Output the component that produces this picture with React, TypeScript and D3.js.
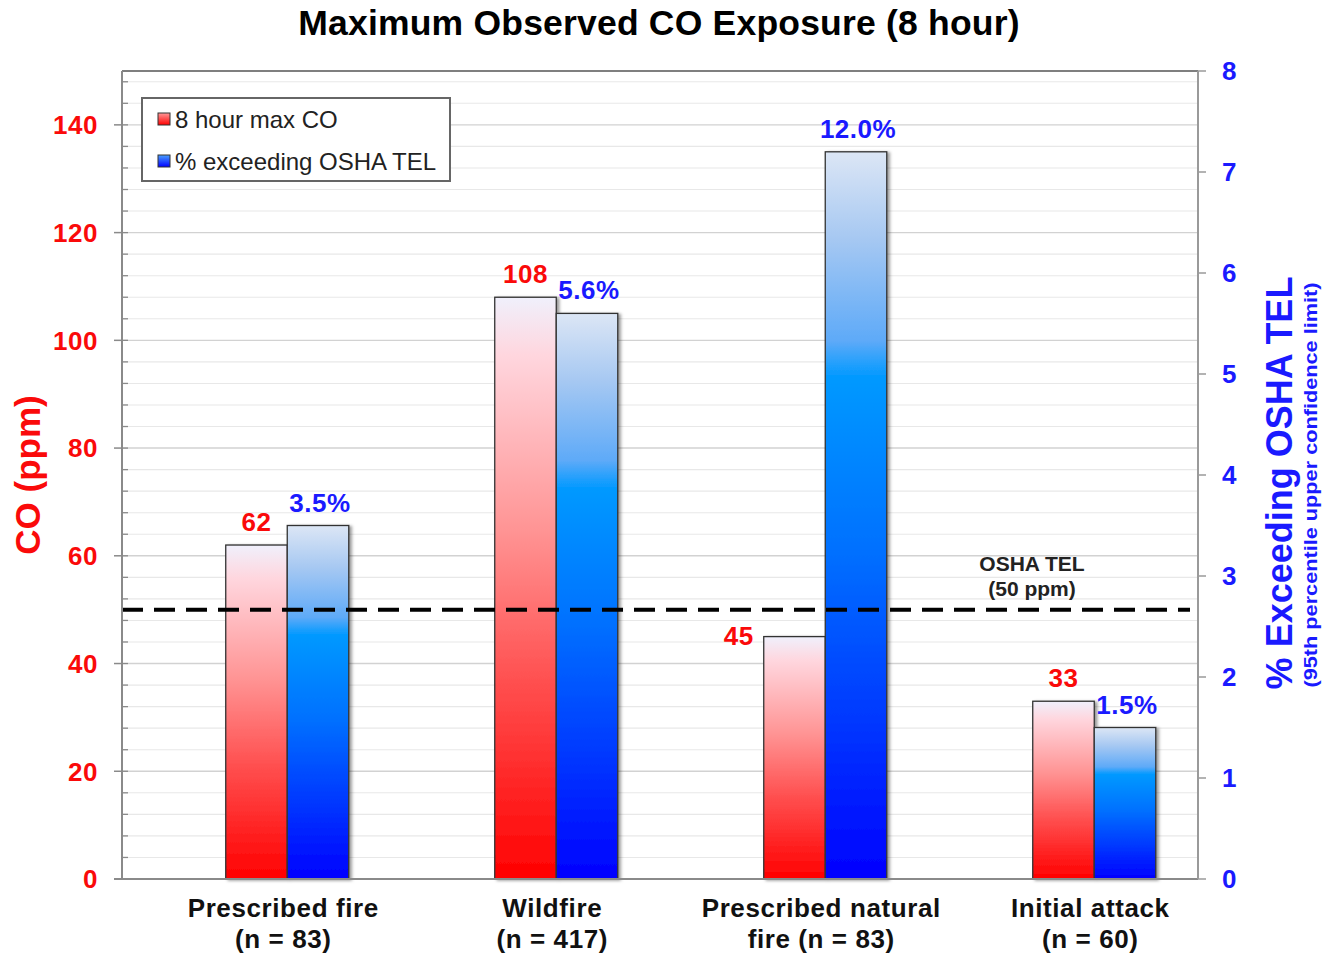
import React from "react";
import * as d3 from "d3";

// Exposure summary by fire type
const categories = ["Prescribed fire", "Wildfire", "Prescribed natural fire", "Initial attack"];
const categoryLabelLines = [
  ["Prescribed fire", "(n = 83)"],
  ["Wildfire", "(n = 417)"],
  ["Prescribed natural", "fire (n = 83)"],
  ["Initial attack", "(n = 60)"],
];
const coMaxPpm = [62, 108, 45, 33];
const pctExceedingTel = [3.5, 5.6, 12.0, 1.5];
const coTicks = [0, 20, 40, 60, 80, 100, 120, 140];
const pctTicks = [0, 1, 2, 3, 4, 5, 6, 7, 8];
const OSHA_TEL_PPM = 50;
// Off-scale percentage bars are truncated at this height on the right axis
const PCT_BAR_CAP = 7.2;
// Categories whose CO value label sits to the left of its bar
const coLabelBeside = ["Prescribed natural fire"];

const W = 1335;
const H = 957;
const plot = { left: 122, right: 1198, top: 71, bottom: 879 };
const FONT = "'Liberation Sans', Arial, Helvetica, sans-serif";
const RED = "#fa0a0a";
const BLUE = "#1a1aff";

export default function App() {
  const x = d3
    .scaleBand<string>()
    .domain(categories)
    .range([plot.left, plot.right])
    .paddingInner(0.314)
    .paddingOuter(0.157);
  const slot = d3
    .scaleBand<string>()
    .domain(["empty", "co", "pct"])
    .range([0, x.bandwidth()]);
  const yCo = d3.scaleLinear().domain([0, 150]).range([plot.bottom, plot.top]);
  const yPct = d3.scaleLinear().domain([0, 8]).range([plot.bottom, plot.top]);

  const gridVals = d3.range(4, 150, 4);
  const minorTicks = d3.range(0, 150, 4);
  const bw = slot.bandwidth();

  return (
    <svg
      width={W}
      height={H}
      viewBox={`0 0 ${W} ${H}`}
      style={{ position: "absolute", left: 0, top: 0, background: "#fff", fontFamily: FONT }}
    >
      <defs>
        <linearGradient id="gradRed" x1="0" y1="0" x2="0" y2="1">
          <stop offset="0%" stopColor="#f0f0fc" />
          <stop offset="10%" stopColor="#ffd6de" />
          <stop offset="40%" stopColor="#ff9494" />
          <stop offset="65%" stopColor="#ff5252" />
          <stop offset="82%" stopColor="#ff2a2a" />
          <stop offset="100%" stopColor="#ff0000" />
        </linearGradient>
        <linearGradient id="gradBlue" x1="0" y1="0" x2="0" y2="1">
          <stop offset="0%" stopColor="#dce6f5" />
          <stop offset="12%" stopColor="#a6c8f2" />
          <stop offset="26%" stopColor="#5eaaf8" />
          <stop offset="31%" stopColor="#0099ff" />
          <stop offset="55%" stopColor="#0070ff" />
          <stop offset="78%" stopColor="#0038ff" />
          <stop offset="100%" stopColor="#0000ff" />
        </linearGradient>
        <linearGradient id="swRed" x1="0" y1="0" x2="0" y2="1">
          <stop offset="0%" stopColor="#ff9a9a" />
          <stop offset="100%" stopColor="#ff0000" />
        </linearGradient>
        <linearGradient id="swBlue" x1="0" y1="0" x2="0" y2="1">
          <stop offset="0%" stopColor="#4aa0ff" />
          <stop offset="100%" stopColor="#0000ff" />
        </linearGradient>
        <filter id="barShadow" x="-20%" y="-5%" width="140%" height="110%">
          <feDropShadow dx="2.5" dy="1" stdDeviation="1.8" floodColor="#000" floodOpacity="0.4" />
        </filter>
      </defs>

      {/* Title */}
      <text x={659} y={35} textAnchor="middle" fontSize={35.5} fontWeight="bold" letterSpacing={0.2} fill="#000">
        Maximum Observed CO Exposure (8 hour)
      </text>

      {/* Horizontal gridlines */}
      <g>
        {gridVals.map((v) => (
          <line
            key={v}
            x1={plot.left}
            x2={plot.right}
            y1={yCo(v)}
            y2={yCo(v)}
            stroke={v % 20 === 0 ? "#d2d2d2" : "#e8e8e8"}
            strokeWidth={v % 20 === 0 ? 1.4 : 1.1}
          />
        ))}
      </g>

      {/* Plot frame top */}
      <line x1={plot.left} x2={plot.right} y1={plot.top} y2={plot.top} stroke="#555" strokeWidth={1.6} />

      {/* Bars */}
      <g filter="url(#barShadow)">
        {categories.map((c, i) => {
          const x0 = (x(c) as number) + (slot("co") as number);
          const x1 = (x(c) as number) + (slot("pct") as number);
          const yr = yCo(coMaxPpm[i]);
          const yb = yPct(Math.min(pctExceedingTel[i], PCT_BAR_CAP));
          return (
            <g key={c}>
              <rect x={x0} y={yr} width={bw} height={plot.bottom - yr} fill="url(#gradRed)" stroke="#333" strokeWidth={1.3} />
              <rect x={x1} y={yb} width={bw} height={plot.bottom - yb} fill="url(#gradBlue)" stroke="#333" strokeWidth={1.3} />
            </g>
          );
        })}
      </g>

      {/* OSHA TEL reference line */}
      <line
        x1={plot.left}
        x2={plot.right - 8}
        y1={yCo(OSHA_TEL_PPM)}
        y2={yCo(OSHA_TEL_PPM)}
        stroke="#000"
        strokeWidth={4}
        strokeDasharray="21 11"
      />
      <text x={1032} y={yCo(OSHA_TEL_PPM) - 39} textAnchor="middle" fontSize={21} fontWeight="bold" fill="#222">
        OSHA TEL
      </text>
      <text x={1032} y={yCo(OSHA_TEL_PPM) - 14} textAnchor="middle" fontSize={21} fontWeight="bold" fill="#222">
        (50 ppm)
      </text>

      {/* Value labels */}
      <g fontSize={26} fontWeight="bold" letterSpacing={0.5}>
        {categories.map((c, i) => {
          const x0 = (x(c) as number) + (slot("co") as number);
          const x1 = (x(c) as number) + (slot("pct") as number);
          const yr = yCo(coMaxPpm[i]);
          const yb = yPct(Math.min(pctExceedingTel[i], PCT_BAR_CAP));
          const beside = coLabelBeside.includes(c);
          return (
            <g key={c}>
              <text
                x={beside ? x0 - 10 : x0 + bw / 2}
                y={beside ? yr + 8 : yr - 14}
                textAnchor={beside ? "end" : "middle"}
                fill={RED}
              >
                {coMaxPpm[i]}
              </text>
              <text x={x1 + bw / 2 + 2} y={yb - 14} textAnchor="middle" fill={BLUE}>
                {pctExceedingTel[i].toFixed(1)}%
              </text>
            </g>
          );
        })}
      </g>

      {/* Left axis */}
      <line x1={plot.left} x2={plot.left} y1={plot.top} y2={plot.bottom} stroke="#8a8a8a" strokeWidth={2} />
      {minorTicks.map((v) => (
        <line key={v} x1={plot.left} x2={plot.left + 6} y1={yCo(v)} y2={yCo(v)} stroke="#8a8a8a" strokeWidth={1.3} />
      ))}
      {coTicks.map((v) => (
        <g key={v}>
          <line x1={plot.left - 8} x2={plot.left} y1={yCo(v)} y2={yCo(v)} stroke="#8a8a8a" strokeWidth={1.5} />
          <text
            x={98}
            y={yCo(v)}
            dy="0.36em"
            textAnchor="end"
            fontSize={26}
            fontWeight="bold"
            letterSpacing={0.5}
            fill={RED}
          >
            {v}
          </text>
        </g>
      ))}
      <text
        transform={`translate(40,475) rotate(-90)`}
        textAnchor="middle"
        fontSize={35}
        fontWeight="bold"
        fill={RED}
      >
        CO (ppm)
      </text>

      {/* Bottom axis */}
      <line x1={plot.left - 8} x2={plot.right} y1={plot.bottom} y2={plot.bottom} stroke="#8a8a8a" strokeWidth={2} />
      <g fontSize={26} fontWeight="bold" letterSpacing={0.6} fill="#111">
        {categories.map((c, i) => {
          const cx = (x(c) as number) + (slot("pct") as number) - 4;
          return (
            <text key={c} textAnchor="middle">
              <tspan x={cx} y={917}>
                {categoryLabelLines[i][0]}
              </tspan>
              <tspan x={cx} y={948}>
                {categoryLabelLines[i][1]}
              </tspan>
            </text>
          );
        })}
      </g>

      {/* Right axis */}
      <line x1={plot.right} x2={plot.right} y1={plot.top} y2={plot.bottom} stroke="#9a9a9a" strokeWidth={2} />
      {pctTicks.map((v) => (
        <g key={v}>
          <line x1={plot.right} x2={plot.right + 8} y1={yPct(v)} y2={yPct(v)} stroke="#9a9a9a" strokeWidth={1.5} />
          <text
            x={1222}
            y={yPct(v)}
            dy="0.36em"
            fontSize={26}
            fontWeight="bold"
            fill={BLUE}
          >
            {v}
          </text>
        </g>
      ))}
      <text
        transform={`translate(1292,483) rotate(-90)`}
        textAnchor="middle"
        fontSize={36}
        fontWeight="bold"
        fill={BLUE}
      >
        % Exceeding OSHA TEL
      </text>
      <text
        transform={`translate(1317,485) rotate(-90)`}
        textAnchor="middle"
        fontSize={18}
        fontWeight="bold"
        fill={BLUE}
        textLength={405}
        lengthAdjust="spacingAndGlyphs"
      >
        (95th percentile upper confidence limit)
      </text>

      {/* Legend */}
      <g>
        <rect x={142} y={98} width={308} height={83} fill="#fff" stroke="#666" strokeWidth={2} />
        <rect x={158} y={113} width={12} height={12} fill="url(#swRed)" stroke="#333" strokeWidth={1} />
        <text x={175} y={128} fontSize={24} fill="#222">
          8 hour max CO
        </text>
        <rect x={158} y={155} width={12} height={12} fill="url(#swBlue)" stroke="#333" strokeWidth={1} />
        <text x={175} y={170} fontSize={24} fill="#222">
          % exceeding OSHA TEL
        </text>
      </g>
    </svg>
  );
}
